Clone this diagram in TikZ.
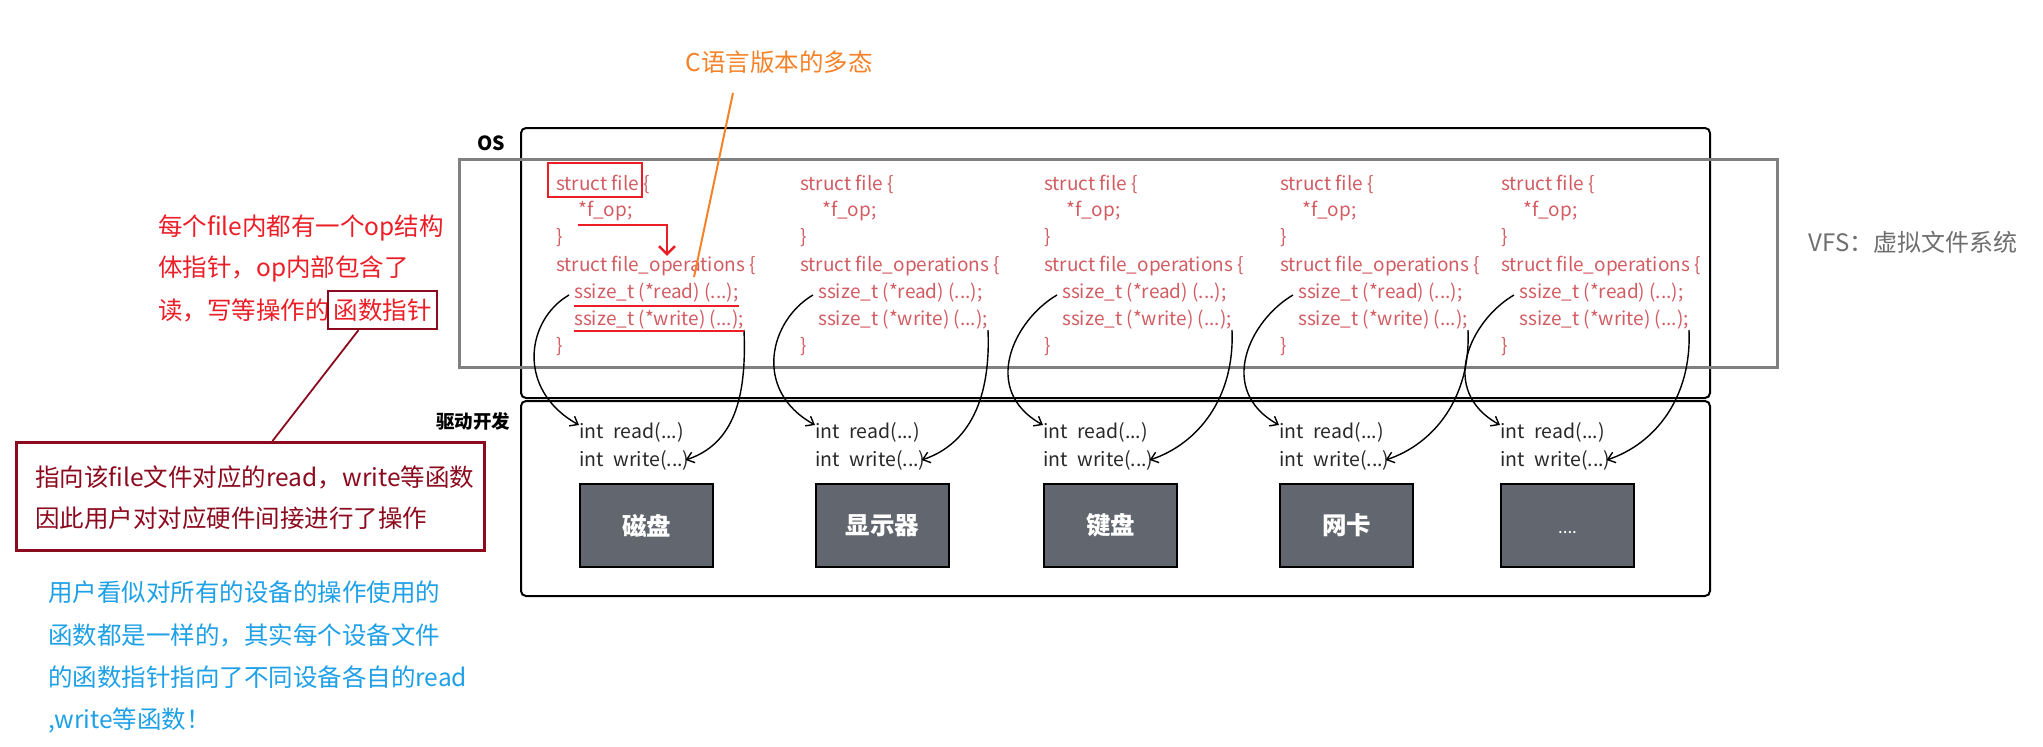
\documentclass[tikz,border=0pt]{standalone}
\usepackage{fontspec}
\setmainfont{Noto Sans CJK SC}
\usetikzlibrary{arrows.meta,calc,positioning}
\definecolor{codered}{RGB}{210,92,98}
\definecolor{annred}{RGB}{235,30,40}
\definecolor{darkred}{RGB}{140,10,30}
\definecolor{orangec}{RGB}{245,130,40}
\definecolor{bluec}{RGB}{30,160,230}
\definecolor{vfsgray}{RGB}{110,110,110}
\definecolor{boxgray}{RGB}{128,128,128}
\definecolor{inkc}{RGB}{40,40,40}
\definecolor{devgray}{RGB}{98,102,110}
\newcommand\devdots{\smash{\raisebox{-8pt}{\mdseries\fontsize{17}{20}\selectfont....}}}
\begin{document}
\begin{tikzpicture}[x=1pt,y=-1pt,
  code/.style={anchor=west, inner sep=0pt, text=codered, font=\fontsize{19}{23}\selectfont},
  intt/.style={anchor=west, inner sep=0pt, text=inkc, font=\fontsize{19.5}{23}\selectfont},
  devbox/.style={draw=black, line width=2pt, fill=devgray, minimum width=133pt, minimum height=83pt, inner sep=0pt, text=white, font=\bfseries\fontsize{24.5}{28}\selectfont},
  ptr/.style={draw=black, line width=1.4pt, -{Straight Barb[length=7pt,width=11pt]}},
  cjk/.style={anchor=west, inner sep=0pt, font=\fontsize{24.5}{29}\selectfont},
  redann/.style={draw=annred, line width=2.5pt},
  lbl/.style={font=\bfseries\fontsize{18.5}{22}\selectfont, text=black}
]
\useasboundingbox (0,0) rectangle (2043,747);

% containers
\draw[line width=2pt, rounded corners=5pt] (521,128) rectangle (1710,398);
\draw[line width=2pt, rounded corners=5pt] (521,401) rectangle (1710,596);
\draw[draw=boxgray, line width=3pt] (459,159) rectangle (1777,367);

\node[lbl, font=\bfseries\fontsize{19.5}{22}\selectfont] (oslab) at (491,143) {OS};
\node[lbl] (drvlab) at (473,421) {驱动开发};
\node[anchor=center, text=vfsgray, font=\fontsize{24}{28}\selectfont] (vfs) at (1913,242) {VFS：虚拟文件系统};

% columns
\foreach \i/\X/\ix/\lab in {1/556/579/磁盘, 2/800/815/显示器, 3/1044/1043/键盘, 4/1280/1279/网卡, 5/1501/1500/\devdots} {
  \node[code] (sf\i) at (\X,184) {struct file \{};
  \node[code] (fop\i) at (\X+22,211) {*f\_op;};
  \node[code] (cb\i) at (\X,238) {\}};
  \node[code] (fops\i) at (\X,266) {struct file\_operations \{};
  \node[code] (rd\i) at (\X+18,293) {ssize\_t (*read) (...);};
  \node[code] (wr\i) at (\X+18,320) {ssize\_t (*write) (...);};
  \node[code] (ce\i) at (\X,347) {\}};
  \node[intt] (ird\i) at (\ix,432) {int\hspace{0.5em}read(...)};
  \node[intt] (iwr\i) at (\ix,460) {int\hspace{0.5em}write(...)};
  \node[devbox, anchor=north west] (dev\i) at (\ix,483) {\lab};
  \draw[ptr] ([xshift=-5pt,yshift=-2pt]rd\i.west) .. controls +(-43,25) and +(-63,-35) .. ([yshift=7pt]ird\i.west);
  \draw[ptr] ([yshift=-10pt]wr\i.east) .. controls +(3,68) and +(48,-16) .. ([xshift=-4pt]iwr\i.east);
}

% red annotations in column 1
\draw[redann] (548,163) rectangle (642,197);
\draw[redann, -{Straight Barb[length=8pt,width=16pt]}] ([yshift=-14pt]fop1.west) -| ([xshift=111pt]fops1.north west);
\draw[redann] ([yshift=-13pt]rd1.west) -- ([yshift=-13pt]rd1.east);
\draw[redann] ([yshift=-11pt]wr1.west) -- ([yshift=-11pt]wr1.east);

% orange note
\node[anchor=center, text=orangec, font=\fontsize{24.5}{29}\selectfont] (poly) at (779,62) {C语言版本的多态};
\coordinate (polytip) at (694,277);
\draw[draw=orangec, line width=2pt] ($(poly.south)+(-46,16)$) -- (polytip);

% left red note
\node[cjk, text=annred] (ra1) at (158,228) {每个file内都有一个op结构};
\node[cjk, text=annred] (ra2) at (158,269) {体指针，op内部包含了};
\node[cjk, text=annred] (ra3) at (158,310) {读，写等操作的};
\node[draw=darkred, line width=2.2pt, anchor=west, inner sep=0pt, minimum width=109pt, minimum height=38pt, text=annred, font=\fontsize{24.5}{29}\selectfont] (fnbox) at ([xshift=-3pt]ra3.east) {函数指针};

% dark red box
\node[draw=darkred, line width=3pt, minimum width=468pt, minimum height=108pt, anchor=north west] (bigbox) at (15,441) {};
\node[cjk, text=darkred] (bb1) at (35,477) {指向该file文件对应的read，write等函数};
\node[cjk, text=darkred] (bb2) at (35,518) {因此用户对对应硬件间接进行了操作};
\draw[draw=darkred, line width=1.8pt] ([xshift=-24pt]fnbox.south) -- ([xshift=22pt]bigbox.north);

% blue note
\node[cjk, text=bluec] (bl1) at (48,592) {用户看似对所有的设备的操作使用的};
\node[cjk, text=bluec] (bl2) at (48,635) {函数都是一样的，其实每个设备文件};
\node[cjk, text=bluec] (bl3) at (48,677) {的函数指针指向了不同设备各自的read};
\node[cjk, text=bluec] (bl4) at (48,720) {,write等函数！};
\end{tikzpicture}
\end{document}
